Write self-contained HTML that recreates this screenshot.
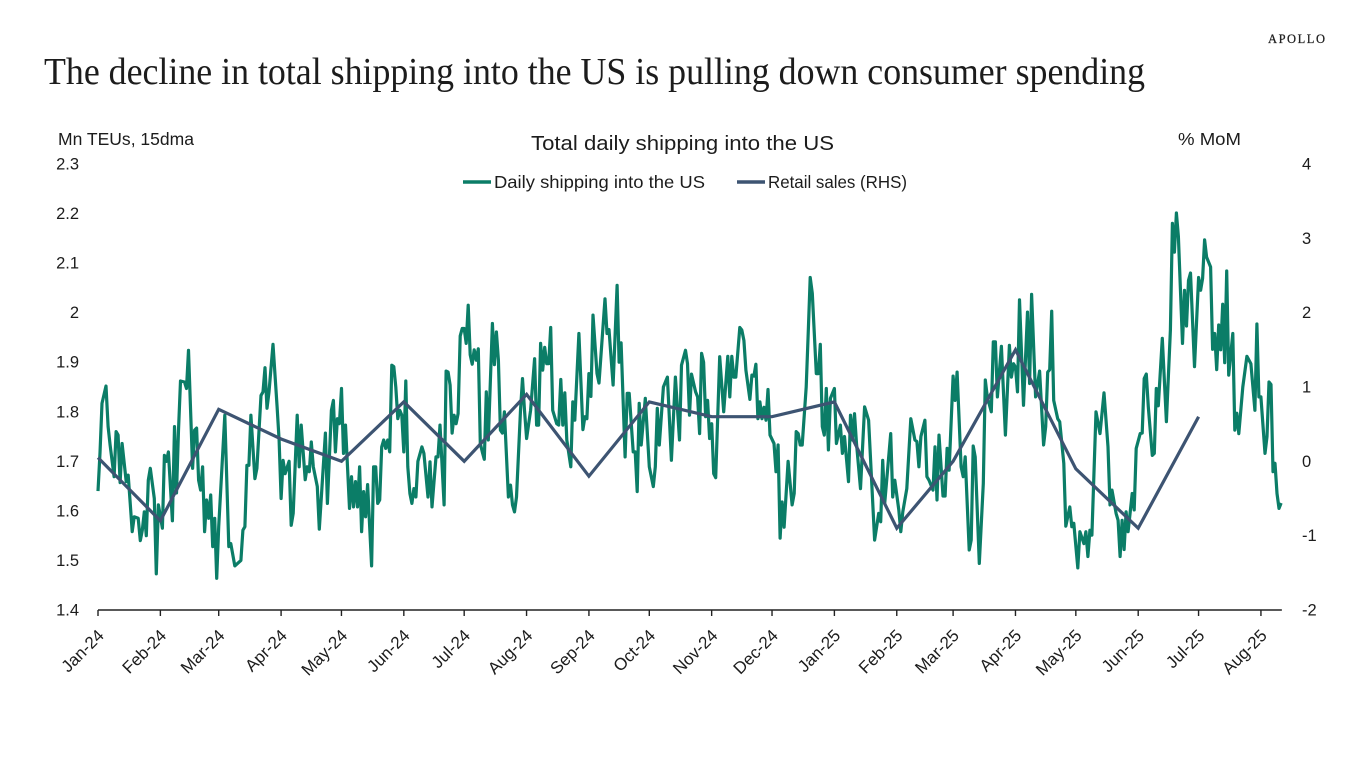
<!DOCTYPE html>
<html lang="en">
<head>
<meta charset="utf-8">
<title>Total daily shipping into the US</title>
<style>
html,body{margin:0;padding:0;background:#fff;width:1366px;height:768px;overflow:hidden}
svg{display:block}
text{font-family:"Liberation Sans",sans-serif;fill:#1c1c1c}
.serif{font-family:"Liberation Serif",serif}
</style>
</head>
<body>
<svg id="chart" width="1366" height="768" viewBox="0 0 1366 768" xmlns="http://www.w3.org/2000/svg">
  <rect x="0" y="0" width="1366" height="768" fill="#fff"/>
  <text class="serif" x="1268" y="43" font-size="12.5" stroke="#222" stroke-width="0.25" textLength="57" lengthAdjust="spacing">APOLLO</text>
  <text class="serif" x="44" y="84" font-size="38" fill="#111" textLength="1101" lengthAdjust="spacingAndGlyphs">The decline in total shipping into the US is pulling down consumer spending</text>
  <text x="531" y="150" font-size="20" textLength="303" lengthAdjust="spacingAndGlyphs">Total daily shipping into the US</text>
  <text x="58" y="145" font-size="17.5" textLength="136" lengthAdjust="spacingAndGlyphs">Mn TEUs, 15dma</text>
  <text x="1178" y="145" font-size="17.5" textLength="63" lengthAdjust="spacingAndGlyphs">% MoM</text>
  <line x1="463" x2="491" y1="182" y2="182" stroke="#0b7d67" stroke-width="3.4"/>
  <text x="494" y="188" font-size="17.5" textLength="211" lengthAdjust="spacingAndGlyphs">Daily shipping into the US</text>
  <line x1="737" x2="765" y1="182" y2="182" stroke="#3d5472" stroke-width="3.4"/>
  <text x="768" y="188" font-size="17.5" textLength="139" lengthAdjust="spacingAndGlyphs">Retail sales (RHS)</text>
  <g id="axes"></g>
  <path id="ship-line" fill="none" stroke="#0b7d67" stroke-width="3.2" stroke-linejoin="round"/>
  <path id="retail-line" fill="none" stroke="#3d5472" stroke-width="3.2" stroke-linejoin="miter"/>
</svg>
<script>
// Month labels and the day offset (from 1 Jan 2024) of each month start
const monthLabels = ["Jan-24","Feb-24","Mar-24","Apr-24","May-24","Jun-24","Jul-24","Aug-24","Sep-24","Oct-24","Nov-24","Dec-24","Jan-25","Feb-25","Mar-25","Apr-25","May-25","Jun-25","Jul-25","Aug-25"];
const monthDays = [0,31,60,91,121,152,182,213,244,274,305,335,366,397,425,456,486,517,547,578];
const leftTicks = [1.4,1.5,1.6,1.7,1.8,1.9,2,2.1,2.2,2.3];
const rightTicks = [-2,-1,0,1,2,3,4];
// Retail sales, % MoM, one value per month start
const retailValues = [0.05,-0.8,0.7,0.3,0,0.8,0,0.9,-0.2,0.8,0.6,0.6,0.8,-0.9,0,1.5,-0.1,-0.9,0.6];
// Daily shipping, Mn TEUs, 15dma: observed day offset and value
const shipDays = [
0,1,2,4,5,6,8,9,10,11,12,14,15,16,17,18,20,21,22,23,24,25,26,28,29,30,32,33,34,35,37,38,39,40,41,43,44,45,47,48,49,50,51,52,53,54,55,56,57,58,59,60,63,65,66,68,71,72,73,74,75,76,78,79,81,82,83,84,85,87,89,90,91,92,93,95,96,97,99,100,
101,103,104,105,106,107,109,110,113,114,116,117,118,119,120,121,122,123,125,126,127,128,129,130,131,132,133,134,136,137,138,139,140,141,142,143,144,145,146,147,148,149,150,151,152,153,154,155,156,157,158,159,161,162,164,165,166,168,169,170,172,173,174,175,176,177,178,179,
180,181,182,183,184,185,186,187,188,189,190,191,192,193,194,196,197,198,199,200,201,202,204,205,206,207,208,210,211,212,213,215,217,218,219,220,221,222,223,224,225,226,228,229,230,231,232,233,235,236,237,239,241,242,243,244,245,246,248,249,252,253,254,256,258,259,260,262,263,264,266,267,268,269,270,272,274,276,277,278,279,281,283,285,287,289,
290,292,293,294,295,297,298,299,300,301,302,303,304,305,306,307,309,311,313,314,315,316,317,319,320,321,322,324,325,326,327,328,329,330,331,332,333,334,336,337,338,339,340,341,343,345,346,347,348,349,350,352,353,354,355,357,358,359,360,361,362,363,364,366,367,369,370,371,373,374,375,376,377,379,381,383,386,388,389,390,391,394,395,396,398,399,400,402,404,406,407,408,409,411,412,413,415,416,417,418,420,421,422,423,425,426,427,429,430,431,433,434,435,436,438,440,441,442,444,445,446,447,449,451,453,454,455,456,457,458,460,462,463,464,466,468,470,471,472,473,474,475,477,478,480,481,483,484,485,487,488,490,491,492,493,494,496,498,500,502,503,504,506,507,508,509,510,511,512,514,515,516,518,519,520,521,522,524,525,526,527,529,531,533,534,535,536,537,539,540,541,542,543,545,547,548,549,550,551,553,554,555,556,557,558,559,560,561,562,564,565,566,567,569,570,571,573,575,576,577,578,580,581,582,583,584,585,586,587,588
];
const shipValues = [
1.64,1.717,1.817,1.852,1.77,1.733,1.669,1.76,1.753,1.657,1.736,1.659,1.672,1.616,1.558,1.588,1.585,1.54,1.561,1.598,1.55,1.662,1.686,1.625,1.473,1.612,1.565,1.712,1.7,1.719,1.58,1.77,1.636,1.763,1.862,1.86,1.847,1.924,1.686,1.763,1.767,1.662,1.642,1.689,1.558,1.622,1.585,1.632,1.528,1.585,1.464,1.568,1.793,1.528,1.534,1.489,1.5,1.561,1.568,1.692,1.692,1.793,1.665,1.686,1.833,1.84,1.889,1.807,1.84,1.936,1.81,1.743,1.625,1.702,1.675,1.7,1.571,1.595,1.793,1.689,
1.773,1.663,1.689,1.679,1.739,1.689,1.649,1.563,1.757,1.615,1.803,1.823,1.719,1.786,1.776,1.847,1.716,1.773,1.605,1.669,1.608,1.659,1.608,1.689,1.558,1.639,1.588,1.653,1.489,1.689,1.689,1.615,1.622,1.729,1.743,1.726,1.743,1.719,1.894,1.891,1.85,1.786,1.803,1.793,1.719,1.862,1.689,1.635,1.615,1.645,1.628,1.7,1.729,1.716,1.628,1.699,1.608,1.709,1.709,1.773,1.612,1.882,1.88,1.854,1.757,1.793,1.776,1.796,
1.953,1.968,1.968,1.938,2.015,1.915,1.896,1.925,1.904,1.927,1.736,1.719,1.704,1.84,1.743,1.978,1.895,1.961,1.904,1.763,1.757,1.8,1.628,1.652,1.612,1.598,1.628,1.803,1.867,1.803,1.746,1.803,1.907,1.773,1.773,1.938,1.884,1.93,1.897,1.897,1.97,1.803,1.776,1.773,1.865,1.773,1.838,1.743,1.689,1.82,1.783,1.958,1.764,1.79,1.786,1.877,1.831,1.995,1.877,1.858,2.028,1.958,1.966,1.854,2.055,1.9,1.939,1.709,1.837,1.837,1.719,1.719,1.639,1.817,1.733,1.827,1.689,1.649,1.689,1.807,1.733,1.85,1.87,1.702,1.87,1.743,
1.894,1.924,1.897,1.793,1.876,1.84,1.83,1.756,1.918,1.9,1.79,1.823,1.746,1.776,1.675,1.667,1.911,1.8,1.912,1.83,1.912,1.87,1.87,1.97,1.965,1.944,1.884,1.825,1.874,1.872,1.896,1.786,1.82,1.786,1.809,1.783,1.845,1.753,1.736,1.679,1.733,1.545,1.618,1.567,1.7,1.612,1.635,1.76,1.756,1.733,1.733,1.85,1.958,2.071,2.039,1.877,1.877,1.936,1.77,1.753,1.847,1.723,1.827,1.847,1.736,1.773,1.716,1.75,1.659,1.793,1.743,1.796,1.736,1.645,1.81,1.783,1.541,1.595,1.578,1.702,1.615,1.756,1.628,1.662,1.602,1.558,1.598,1.645,1.786,1.743,1.74,1.689,1.75,1.783,1.669,1.662,1.642,1.729,1.622,1.753,1.63,1.63,1.726,1.682,1.872,1.823,1.88,1.689,1.669,1.709,1.521,1.541,1.731,1.709,1.494,1.655,1.864,1.83,1.8,1.941,1.941,1.83,1.932,1.753,1.934,1.87,1.897,1.89,1.84,2.026,1.813,2.001,1.857,2.037,1.83,1.882,1.733,1.77,1.88,1.885,2.003,1.823,1.786,1.78,1.696,1.569,1.608,1.568,1.575,1.485,1.558,1.534,1.558,1.508,1.561,1.551,1.8,1.756,1.838,1.729,1.612,1.642,1.595,1.581,1.508,1.581,1.522,1.598,1.558,1.635,1.602,1.726,1.756,1.757,1.867,1.876,1.81,1.712,1.716,1.847,1.812,1.948,1.78,1.965,2.18,2.122,2.201,2.153,1.938,2.045,1.973,2.065,2.08,1.891,2.071,2.045,2.069,2.147,2.112,2.092,1.926,1.958,1.885,1.975,1.925,2.017,1.899,2.084,1.874,1.958,1.763,1.797,1.756,1.85,1.88,1.912,1.897,1.803,1.977,1.83,1.83,1.716,1.75,1.86,1.855,1.679,1.696,1.635,1.605,1.616
];

const svgNS = "http://www.w3.org/2000/svg";
const xScale = d => 98 + d * 2.012;
const yLeft = v => 610 - (v - 1.4) * 495.6;
const yRight = v => 610 - (v + 2) * 74.33;
const axes = document.getElementById("axes");

function svgEl(tag, attrs, text) {
  const el = document.createElementNS(svgNS, tag);
  for (const k in attrs) el.setAttribute(k, attrs[k]);
  if (text !== undefined) el.textContent = text;
  axes.appendChild(el);
  return el;
}

const axisLine = svgEl("line", {x1: xScale(0), x2: xScale(588.4), y1: 610, y2: 610, stroke: "#222", "stroke-width": 1.6});



monthLabels.forEach((label, i) => {
  const x = xScale(monthDays[i]);
  const tick = svgEl("line", {x1: x, x2: x, y1: 610, y2: 616, stroke: "#222", "stroke-width": 1.4});
  
  
  const t = svgEl("text", {x: x + 7, y: 636.5, "font-size": 17, "text-anchor": "end", transform: "rotate(-45 " + (x + 7) + " 636.5)"}, label);
  
  
});

leftTicks.forEach(v => {
  const t = svgEl("text", {x: 79, y: yLeft(v) + 5.5, "font-size": 16.5, "text-anchor": "end"}, String(v));
  
  
});

rightTicks.forEach(v => {
  const t = svgEl("text", {x: 1302, y: yRight(v) + 5.5, "font-size": 16.5, "text-anchor": "start"}, String(v));
  
  
});

document.getElementById("ship-line").setAttribute("d",
  shipValues.map((v, i) => (i ? "L" : "M") + xScale(shipDays[i]).toFixed(1) + " " + yLeft(v).toFixed(1)).join(""));
document.getElementById("retail-line").setAttribute("d",
  retailValues.map((v, i) => (i ? "L" : "M") + xScale(monthDays[i]).toFixed(1) + " " + yRight(v).toFixed(1)).join(""));
</script>
</body>
</html>
